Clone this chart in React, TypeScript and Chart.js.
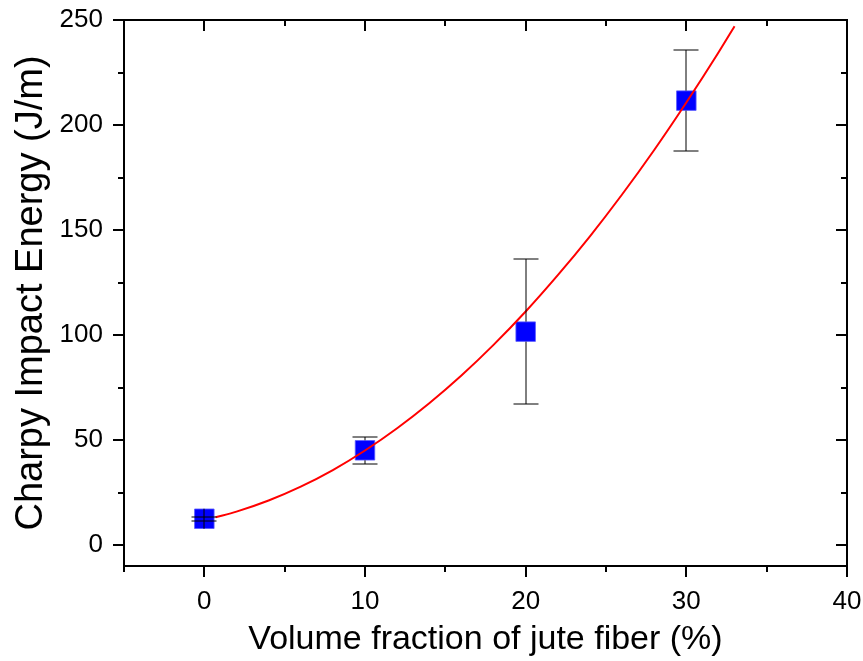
import { useEffect, useRef } from "react";
import { Chart, registerables } from "chart.js";

Chart.register(...registerables);

// Measured points
const fiberFraction = [0, 10, 20, 30];
const impactEnergy = [12.5, 45.1, 101.6, 211.6];
const impactError = [1.0, 6.4, 34.5, 23.9];

// Fitted curve
const fitX = [0.7, 2, 4, 6, 8, 10, 12, 14, 16, 18, 20, 22, 24, 26, 28, 30, 32, 33];
const fitY = [13.2, 15.9, 21.2, 27.8, 35.7, 45.0, 55.6, 67.5, 80.7, 95.3, 111.2, 128.5, 147.0, 166.9, 188.1, 210.7, 234.5, 247.0];

// Tick labels
const xTickLabels = [0, 10, 20, 30, 40];
const yTickLabels = [0, 50, 100, 150, 200, 250];

const xTitle = "Volume fraction of jute fiber (%)";
const yTitle = "Charpy Impact Energy (J/m)";

const xMin = -5;
const xMax = 40;
const xMinor = 5;
const yMin = -10;
const yMax = 250;
const yMinor = 25;

const FONT = "'Liberation Sans', Arial, Helvetica, sans-serif";

const framePlugin = {
  id: "frameTicks",
  afterDraw(chart: any) {
    const { ctx, chartArea, scales } = chart;
    const { left, right, top, bottom } = chartArea;
    const xs = scales.x;
    const ys = scales.y;
    ctx.save();
    ctx.strokeStyle = "#000";
    ctx.lineWidth = 2;
    ctx.lineCap = "butt";
    ctx.beginPath();
    for (let v = Math.ceil(xMin / xMinor) * xMinor; v <= xMax + 1e-9; v += xMinor) {
      const px = Math.round(xs.getPixelForValue(v));
      const len = xTickLabels.includes(v) ? 11 : 6;
      ctx.moveTo(px, bottom);
      ctx.lineTo(px, bottom + len);
      ctx.moveTo(px, top);
      ctx.lineTo(px, top + len);
    }
    for (let v = Math.ceil(yMin / yMinor) * yMinor; v <= yMax + 1e-9; v += yMinor) {
      const py = Math.round(ys.getPixelForValue(v));
      const len = yTickLabels.includes(v) ? 11 : 6;
      ctx.moveTo(left - len, py);
      ctx.lineTo(left, py);
      ctx.moveTo(right - len, py);
      ctx.lineTo(right, py);
    }
    ctx.stroke();
    ctx.beginPath();
    ctx.rect(left, top, right - left, bottom - top);
    ctx.stroke();
    ctx.restore();
  },
};

const errorBarPlugin = {
  id: "errorBars",
  afterDatasetsDraw(chart: any) {
    const { ctx, scales } = chart;
    const xs = scales.x;
    const ys = scales.y;
    const half = 10;
    const cap = 12.5;
    ctx.save();
    ctx.strokeStyle = "#000";
    ctx.lineWidth = 1;
    ctx.beginPath();
    fiberFraction.forEach((xv, i) => {
      const px = Math.round(xs.getPixelForValue(xv));
      const py = ys.getPixelForValue(impactEnergy[i]);
      const yTop = Math.round(ys.getPixelForValue(impactEnergy[i] + impactError[i]));
      const yBot = Math.round(ys.getPixelForValue(impactEnergy[i] - impactError[i]));
      if (py - yTop > half) {
        ctx.moveTo(px, yTop);
        ctx.lineTo(px, py - half);
        ctx.moveTo(px, py + half);
        ctx.lineTo(px, yBot);
      } else {
        ctx.moveTo(px, py - half);
        ctx.lineTo(px, py + half);
      }
      ctx.moveTo(px - cap, yTop);
      ctx.lineTo(px + cap, yTop);
      ctx.moveTo(px - cap, yBot);
      ctx.lineTo(px + cap, yBot);
    });
    ctx.stroke();
    ctx.restore();
  },
};

const zeroPadding = (s: any) => {
  s.paddingLeft = 0;
  s.paddingRight = 0;
  s.paddingTop = 0;
  s.paddingBottom = 0;
};

export default function App() {
  const canvasRef = useRef<HTMLCanvasElement | null>(null);

  useEffect(() => {
    const canvas = canvasRef.current;
    if (!canvas) return;
    const chart = new Chart(canvas, {
      type: "scatter",
      data: {
        datasets: [
          {
            label: "fit",
            data: fitX.map((x, i) => ({ x, y: fitY[i] })),
            showLine: true,
            borderColor: "#ff0000",
            backgroundColor: "#ff0000",
            borderWidth: 2,
            pointRadius: 0,
            cubicInterpolationMode: "monotone",
          } as any,
          {
            label: "data",
            data: fiberFraction.map((x, i) => ({ x, y: impactEnergy[i] })),
            pointStyle: "rect",
            pointRadius: 13.8,
            pointHoverRadius: 13.8,
            backgroundColor: "#0000ff",
            borderColor: "rgba(90,90,255,0.8)",
            borderWidth: 1,
          },
        ],
      },
      options: {
        animation: false,
        responsive: false,
        devicePixelRatio: 1,
        layout: { padding: { top: 20, right: 16, left: 0, bottom: 0 } },
        plugins: {
          legend: { display: false },
          tooltip: { enabled: false },
        },
        events: [],
        scales: {
          x: {
            type: "linear",
            min: xMin,
            max: xMax,
            grid: { display: false, drawTicks: false },
            border: { display: false },
            afterBuildTicks: (s: any) => {
              s.ticks = xTickLabels.map((v) => ({ value: v }));
            },
            ticks: {
              autoSkip: false,
              maxRotation: 0,
              padding: 20,
              color: "#000",
              font: { family: FONT, size: 26 },
              callback: (v: any) => String(v),
            },
            title: {
              display: true,
              text: xTitle,
              color: "#000",
              font: { family: FONT, size: 34 },
              padding: { top: 0, bottom: 1 },
            },
            afterFit: (s: any) => {
              s.height = 95;
              zeroPadding(s);
            },
          },
          y: {
            type: "linear",
            min: yMin,
            max: yMax,
            grid: { display: false, drawTicks: false },
            border: { display: false },
            afterBuildTicks: (s: any) => {
              s.ticks = yTickLabels.map((v) => ({ value: v }));
            },
            ticks: {
              autoSkip: false,
              padding: 21,
              color: "#000",
              font: { family: FONT, size: 26 },
              callback: (v: any) => String(v),
            },
            title: {
              display: true,
              text: yTitle,
              color: "#000",
              font: { family: FONT, size: 38 },
              padding: { top: 9, bottom: 0 },
            },
            afterFit: (s: any) => {
              s.width = 124;
              zeroPadding(s);
            },
          },
        },
      },
      plugins: [framePlugin, errorBarPlugin],
    });
    return () => chart.destroy();
  }, []);

  return (
    <div style={{ position: "absolute", left: 0, top: 0, width: 863, height: 661, background: "#fff" }}>
      <canvas ref={canvasRef} width={863} height={661} style={{ display: "block" }} />
    </div>
  );
}
